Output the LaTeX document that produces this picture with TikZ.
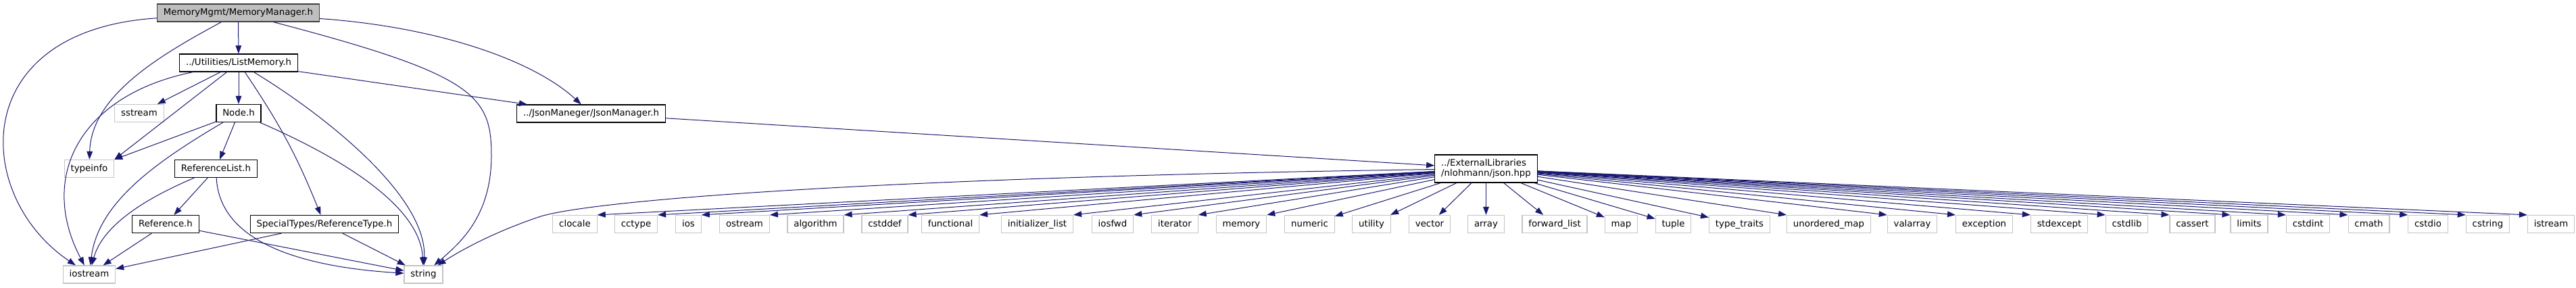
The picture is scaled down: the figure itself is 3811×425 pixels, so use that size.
\documentclass[tikz,border=0pt]{standalone}
\usepackage{fontspec}
\setmainfont{DejaVu Sans}
\usepackage{tikz}
\usetikzlibrary{arrows.meta}

\definecolor{edgeblue}{HTML}{191970}
\definecolor{sysgray}{HTML}{C4C4C4}
\definecolor{mmfill}{HTML}{BFBFBF}
\definecolor{mmdraw}{HTML}{404040}

\begin{document}
\begin{tikzpicture}[
    x=0.75pt, y=-0.75pt,
    box/.style={draw, line width=0.9pt, fill=white, inner xsep=7pt, inner ysep=0pt, minimum height=19.5pt, text height=7.6pt, text depth=2.2pt, font=\fontsize{10pt}{12pt}\selectfont},
    mainbox/.style={box, fill=mmfill, draw=mmdraw},
    projbox/.style={box, draw=black},
    sysbox/.style={box, draw=sysgray},
    libbox/.style={draw=black, line width=0.9pt, fill=white, inner xsep=7pt, minimum height=30.75pt, align=left, font=\fontsize{10pt}{11.5pt}\selectfont},
    dep/.style={draw=edgeblue, line width=0.75pt, -{Triangle[length=9pt,width=6.5pt]}},
]
    \useasboundingbox (0,0) rectangle (3811,425);

    \node[mainbox] (mm) at (352.5,19) {MemoryMgmt/MemoryManager.h};
    \node[projbox] (lm) at (353,93) {../Utilities/ListMemory.h};
    \node[sysbox] (sstream) at (206,167.5) {sstream};
    \node[projbox] (nodeh) at (353,167.5) {Node.h};
    \node[projbox] (jm) at (874.5,168) {../JsonManeger/JsonManager.h};
    \node[sysbox] (typeinfo) at (132,249.5) {typeinfo};
    \node[projbox] (rl) at (319.5,249.5) {ReferenceList.h};
    \node[projbox] (refh) at (245,331.5) {Reference.h};
    \node[projbox] (rt) at (480,331.5) {SpecialTypes/ReferenceType.h};
    \node[sysbox] (iostream) at (132,406) {iostream};
    \node[sysbox] (string) at (626.5,406) {string};
    \node[libbox] (json) at (2198.5,249.5) {../ExternalLibraries\\/nlohmann/json.hpp};

    % headers pulled in by json.hpp
    \node[sysbox] (clocale) at (850.5,331.5) {clocale};
    \node[sysbox] (cctype) at (941,331.5) {cctype};
    \node[sysbox] (ios) at (1018.5,331.5) {ios};
    \node[sysbox] (ostream) at (1101.5,331.5) {ostream};
    \node[sysbox] (algorithm) at (1206.5,331.5) {algorithm};
    \node[sysbox] (cstddef) at (1309,331.5) {cstddef};
    \node[sysbox] (functional) at (1406,331.5) {functional};
    \node[sysbox] (initlist) at (1534.5,331.5) {initializer\_list};
    \node[sysbox] (iosfwd) at (1646,331.5) {iosfwd};
    \node[sysbox] (iterator) at (1738,331.5) {iterator};
    \node[sysbox] (memory) at (1836.5,331.5) {memory};
    \node[sysbox] (numeric) at (1937.5,331.5) {numeric};
    \node[sysbox] (utility) at (2029,331.5) {utility};
    \node[sysbox] (vector) at (2115,331.5) {vector};
    \node[sysbox] (array) at (2198.5,331.5) {array};
    \node[sysbox] (fwdlist) at (2300,331.5) {forward\_list};
    \node[sysbox] (map) at (2398.5,331.5) {map};
    \node[sysbox] (tuple) at (2475.5,331.5) {tuple};
    \node[sysbox] (typetraits) at (2573.5,331.5) {type\_traits};
    \node[sysbox] (umap) at (2705.5,331.5) {unordered\_map};
    \node[sysbox] (valarray) at (2829,331.5) {valarray};
    \node[sysbox] (exception) at (2935.5,331.5) {exception};
    \node[sysbox] (stdexcept) at (3046.5,331.5) {stdexcept};
    \node[sysbox] (cstdlib) at (3146.5,331.5) {cstdlib};
    \node[sysbox] (cassert) at (3243.5,331.5) {cassert};
    \node[sysbox] (limits) at (3327.5,331.5) {limits};
    \node[sysbox] (cstdint) at (3414.5,331.5) {cstdint};
    \node[sysbox] (cmath) at (3504.5,331.5) {cmath};
    \node[sysbox] (cstdio) at (3592,331.5) {cstdio};
    \node[sysbox] (cstring) at (3680.5,331.5) {cstring};
    \node[sysbox] (istream) at (3774,331.5) {istream};

    % MemoryManager.h
    \draw[dep] (mm) .. controls (-50,45) and (-40,290) .. (iostream);
    \draw[dep] (mm) .. controls (240,80) and (135,140) .. (typeinfo);
    \draw[dep] (mm) -- (lm);
    \draw[dep] (mm) .. controls (700,110) and (727,140) .. (727,230) .. controls (727,320) and (680,360) .. (string);
    \draw[dep] (mm) .. controls (650,40) and (790,90) .. (jm);

    % ListMemory.h
    \draw[dep] (lm) .. controls (120,140) and (55,260) .. (iostream);
    \draw[dep] (lm) -- (sstream);
    \draw[dep] (lm) -- (typeinfo.north east);
    \draw[dep] (lm) -- (nodeh);
    \draw[dep] (lm) to[bend left=6] (rt);
    \draw[dep] (lm) .. controls (480,170) and (632,290) .. (string);
    \draw[dep] (lm) -- (jm);

    % Node.h
    \draw[dep] (nodeh) -- (typeinfo.north east);
    \draw[dep] (nodeh) .. controls (230,240) and (145,300) .. (iostream);
    \draw[dep] (nodeh) -- (rl);
    \draw[dep] (nodeh) .. controls (520,240) and (622,310) .. (string);

    % ReferenceList.h, Reference.h, ReferenceType.h
    \draw[dep] (rl) .. controls (200,300) and (150,340) .. (iostream);
    \draw[dep] (rl) -- (refh);
    \draw[dep] (rl) .. controls (325,360) and (450,395) .. (string);
    \draw[dep] (refh) -- (iostream);
    \draw[dep] (refh) -- (string);
    \draw[dep] (rt) -- (iostream);
    \draw[dep] (rt) -- (string);

    % JsonManager.h and json.hpp
    \draw[dep] (jm) -- (json);
    \draw[dep] (json) .. controls (1300,262) and (880,296) .. (800,320) .. controls (740,340) and (690,365) .. (string);
    \draw[dep] (json) -- (clocale.north east);
    \draw[dep] (json) -- (cctype.north east);
    \draw[dep] (json) -- (ios.north east);
    \draw[dep] (json) -- (ostream.north east);
    \draw[dep] (json) -- (algorithm.north east);
    \draw[dep] (json) -- (cstddef.north east);
    \draw[dep] (json) -- (functional.north east);
    \draw[dep] (json) -- (initlist.north east);
    \draw[dep] (json) -- (iosfwd.north east);
    \draw[dep] (json) -- (iterator.north east);
    \draw[dep] (json) -- (memory.north east);
    \draw[dep] (json) -- (numeric);
    \draw[dep] (json) -- (utility);
    \draw[dep] (json) -- (vector);
    \draw[dep] (json) -- (array);
    \draw[dep] (json) -- (fwdlist);
    \draw[dep] (json) -- (map);
    \draw[dep] (json) -- (tuple);
    \draw[dep] (json) -- (typetraits);
    \draw[dep] (json) -- (umap.north west);
    \draw[dep] (json) -- (valarray.north west);
    \draw[dep] (json) -- (exception.north west);
    \draw[dep] (json) -- (stdexcept.north west);
    \draw[dep] (json) -- (cstdlib.north west);
    \draw[dep] (json) -- (cassert.north west);
    \draw[dep] (json) -- (limits.north west);
    \draw[dep] (json) -- (cstdint.north west);
    \draw[dep] (json) -- (cmath.north west);
    \draw[dep] (json) -- (cstdio.north west);
    \draw[dep] (json) -- (cstring.north west);
    \draw[dep] (json) -- (istream.north west);
\end{tikzpicture}
\end{document}
